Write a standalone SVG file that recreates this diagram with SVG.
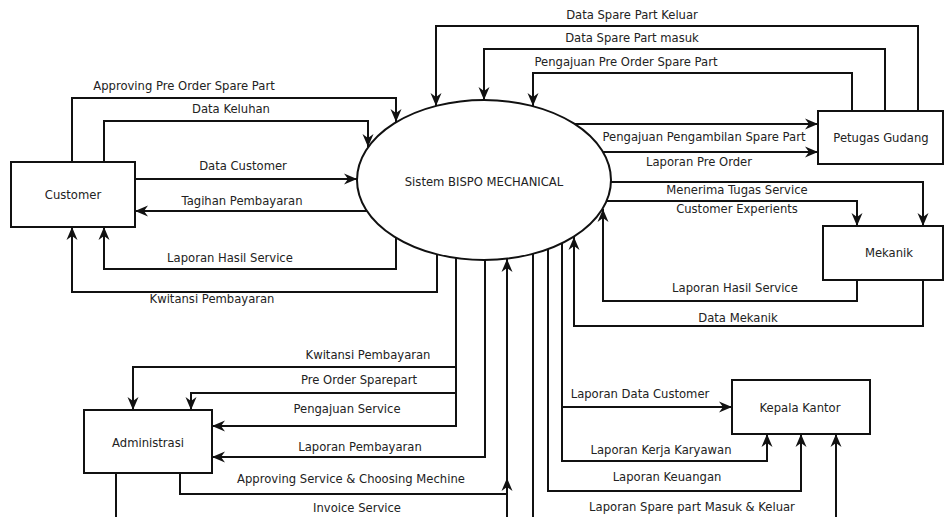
<svg xmlns="http://www.w3.org/2000/svg" width="944" height="517" viewBox="0 0 944 517">
<defs>
<marker id="arr" markerUnits="userSpaceOnUse" markerWidth="14" markerHeight="14" viewBox="0 0 14 14" refX="13" refY="7" orient="auto">
<path d="M0,1.5 L13,7 L0,12.5 L4,7 z" fill="#111"/>
</marker>
<style>
.n{fill:#fff;stroke:#111;stroke-width:2}
.c{fill:none;stroke:#111;stroke-width:2}
.a{marker-end:url(#arr)}
text{font-family:"DejaVu Sans","Liberation Sans",sans-serif;font-size:11.6px;fill:#222;text-anchor:middle}
</style>
</defs>
<rect width="944" height="517" fill="#fff"/>
<g id="connectors">
<path class="c a" d="M72,162 V98 H396 V122"/>
<path class="c a" d="M104,162 V121 H368 V147"/>
<path class="c a" d="M135,179 H357"/>
<path class="c a" d="M367,211 H135"/>
<path class="c a" d="M396,238 V269 H104 V227"/>
<path class="c a" d="M437,254 V292 H72 V227"/>
<path class="c a" d="M918,111 V26 H436 V106"/>
<path class="c a" d="M885,111 V49 H484 V100"/>
<path class="c a" d="M852,111 V73 H533 V106"/>
<path class="c a" d="M575,124 H818"/>
<path class="c a" d="M603,152 H818"/>
<path class="c a" d="M611,182 H923 V226"/>
<path class="c a" d="M606,201 H857 V226"/>
<path class="c a" d="M857,280 V301 H603 V209"/>
<path class="c a" d="M923,280 V326 H574 V237"/>
<path class="c a" d="M456,258 V426 H212"/>
<path class="c a" d="M456,367 H133 V410"/>
<path class="c a" d="M456,393 H191 V410"/>
<path class="c a" d="M485,260 V457 H212"/>
<path class="c" d="M180,473 V494 H507"/>
<path class="c a" d="M507,517 V478"/>
<path class="c a" d="M507,478 V259"/>
<path class="c" d="M116,473 V517"/>
<path class="c a" d="M562,243 V461 H767 V434"/>
<path class="c a" d="M562,407 H732"/>
<path class="c a" d="M548,249 V491 H801 V434"/>
<path class="c" d="M533,254 V517"/>
<path class="c a" d="M836,517 V434"/>
<text x="184" y="90">Approving Pre Order Spare Part</text>
<text x="231" y="113">Data Keluhan</text>
<text x="243" y="170">Data Customer</text>
<text x="242" y="205">Tagihan Pembayaran</text>
<text x="230" y="262">Laporan Hasil Service</text>
<text x="212" y="303">Kwitansi Pembayaran</text>
<text x="632" y="19">Data Spare Part Keluar</text>
<text x="632" y="42">Data Spare Part masuk</text>
<text x="626" y="66">Pengajuan Pre Order Spare Part</text>
<text x="704" y="141">Pengajuan Pengambilan Spare Part</text>
<text x="699" y="166">Laporan Pre Order</text>
<text x="737" y="194">Menerima Tugas Service</text>
<text x="737" y="213">Customer Experients</text>
<text x="735" y="292">Laporan Hasil Service</text>
<text x="738" y="322">Data Mekanik</text>
<text x="368" y="359">Kwitansi Pembayaran</text>
<text x="359" y="384">Pre Order Sparepart</text>
<text x="347" y="413">Pengajuan Service</text>
<text x="360" y="451">Laporan Pembayaran</text>
<text x="351" y="483">Approving Service &amp; Choosing Mechine</text>
<text x="357" y="512">Invoice Service</text>
<text x="640" y="398">Laporan Data Customer</text>
<text x="661" y="454">Laporan Kerja Karyawan</text>
<text x="667" y="481">Laporan Keuangan</text>
<text x="692" y="511">Laporan Spare part Masuk &amp; Keluar</text>
</g>
<g id="customer"><rect class="n" x="11" y="162" width="124" height="65"/><text x="73" y="199">Customer</text></g>
<g id="sistem"><ellipse class="n" cx="484" cy="180" rx="127" ry="80"/><text x="484" y="186">Sistem BISPO MECHANICAL</text></g>
<g id="petugas-gudang"><rect class="n" x="818" y="111" width="125" height="53"/><text x="881" y="142">Petugas Gudang</text></g>
<g id="mekanik"><rect class="n" x="823" y="226" width="120" height="54"/><text x="889" y="257">Mekanik</text></g>
<g id="administrasi"><rect class="n" x="84" y="410" width="128" height="63"/><text x="148" y="447">Administrasi</text></g>
<g id="kepala-kantor"><rect class="n" x="732" y="380" width="138" height="54"/><text x="800" y="412">Kepala Kantor</text></g>
</svg>
